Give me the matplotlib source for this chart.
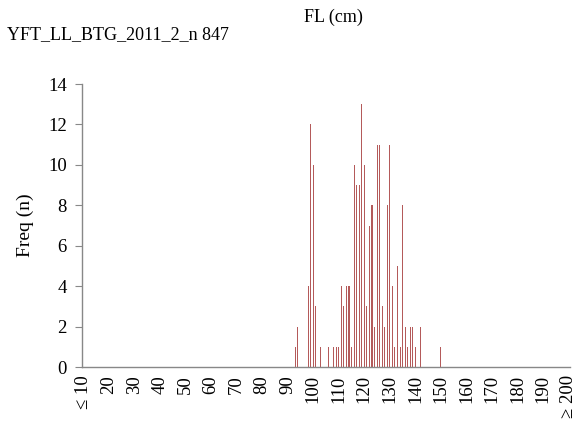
import numpy as np
import matplotlib.pyplot as plt

# fork length bins (cm) that have catches, and their counts
lengths = [93, 94, 98, 99, 100, 101, 103, 106, 108, 109, 110, 111, 112, 113,
           114, 115, 116, 117, 118, 119, 120, 121, 122, 123, 124, 125, 126,
           127, 128, 129, 130, 131, 132, 133, 134, 135, 136, 137, 138, 139,
           140, 142, 150]
counts = [1, 2, 4, 12, 10, 3, 1, 1, 1, 1, 1, 4, 3, 4,
          4, 1, 10, 9, 9, 13, 10, 3, 7, 8, 2, 11, 11,
          3, 2, 8, 11, 4, 1, 5, 1, 8, 2, 1, 2, 2,
          1, 2, 1]

bins = np.arange(10, 201)
freq = np.zeros(len(bins))
for L, c in zip(lengths, counts):
    freq[L - 10] = c

tick_pos = list(range(10, 201, 10))
tick_labels = [str(t) for t in tick_pos]
tick_labels[0] = "\u2264 10"
tick_labels[-1] = "\u2265 200"

plt.rcParams['font.family'] = ['Liberation Serif', 'DejaVu Serif']

fig = plt.figure(figsize=(5.77, 4.21), dpi=100)
ax = fig.add_axes([82 / 577, 54 / 421, (570 - 82) / 577, 283 / 421])

ax.bar(bins, freq, width=0.4, color='#b45a5a', linewidth=0)

ax.set_xlim(9.5, 200.5)
ax.set_ylim(0, 14)
ax.set_yticks(range(0, 15, 2))
ax.set_xticks(tick_pos)
ax.set_xticklabels(tick_labels, rotation=90, fontsize=13.5)
ax.tick_params(axis='y', labelsize=13.5, length=5, color='#888888', pad=6)
ax.tick_params(axis='x', length=0, pad=6)

for side in ['top', 'right']:
    ax.spines[side].set_visible(False)
for side in ['left', 'bottom']:
    ax.spines[side].set_color('#888888')
    ax.spines[side].set_linewidth(1)

ax.set_ylabel("Freq (n)", fontsize=14, labelpad=10)

fig.text(333 / 577, 1 - 17 / 421, "FL (cm)", fontsize=13, ha='center', va='center')
fig.text(7 / 577, 1 - 35 / 421, "YFT_LL_BTG_2011_2_n 847", fontsize=13,
         ha='left', va='center')

fig.savefig("out.png", dpi=100)
